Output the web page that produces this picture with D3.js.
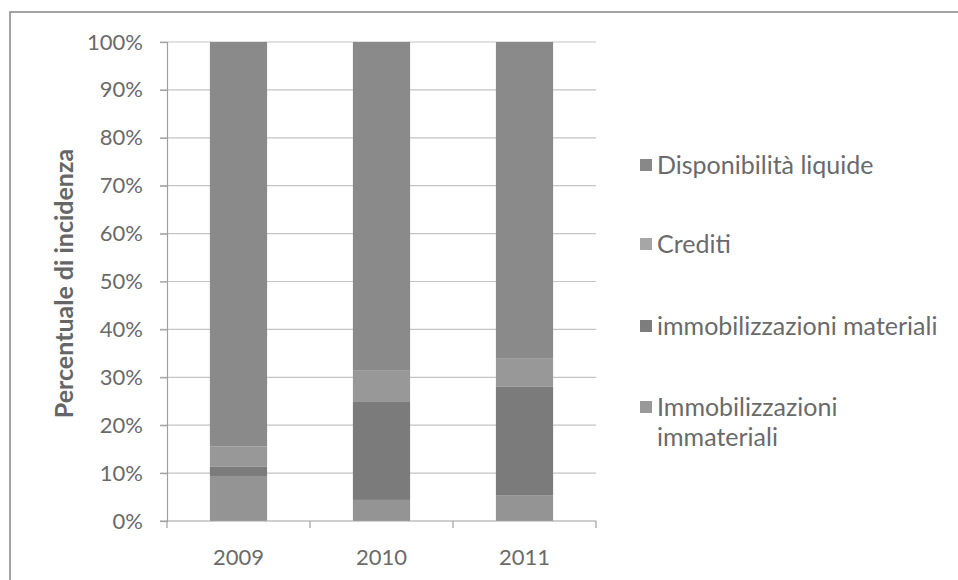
<!DOCTYPE html>
<html>
<head>
<meta charset="utf-8">
<script src="https://cdn.jsdelivr.net/npm/d3@7/dist/d3.min.js"></script>
<style>
  html, body { margin: 0; padding: 0; background: #fff; }
  svg { display: block; font-family: Lato, "Open Sans", sans-serif; }
</style>
</head>
<body>
<svg id="chart" width="958" height="580"></svg>
<script>
// Composizione dell'attivo: quota percentuale per anno
const years = ["2009", "2010", "2011"];
const seriesNames = ["Immobilizzazioni immateriali", "immobilizzazioni materiali", "Crediti", "Disponibilità liquide"];
const immateriali = [9.4, 4.4, 5.3];
const materiali = [1.9, 20.6, 22.8];
const crediti = [4.3, 6.5, 5.9];
const disponibilita = [84.4, 68.5, 66.0];
const yTicks = [0, 10, 20, 30, 40, 50, 60, 70, 80, 90, 100];
const legendOrder = ["Disponibilità liquide", "Crediti", "immobilizzazioni materiali", "Immobilizzazioni immateriali"];

const colors = {
  "Immobilizzazioni immateriali": "#949494",
  "immobilizzazioni materiali": "#7b7b7b",
  "Crediti": "#989898",
  "Disponibilità liquide": "#8a8a8a"
};
const legendColors = {
  "Immobilizzazioni immateriali": "#999999",
  "immobilizzazioni materiali": "#7d7d7d",
  "Crediti": "#a6a6a6",
  "Disponibilità liquide": "#888888"
};

const svg = d3.select("#chart");

// outer chart frame
svg.append("rect")
  .attr("x", 10).attr("y", 12)
  .attr("width", 1000).attr("height", 700)
  .attr("fill", "none").attr("stroke", "#9a9a9a").attr("stroke-width", 1.8);

const plot = { left: 167, right: 596, top: 42, bottom: 521 };

const x = d3.scaleBand().domain(years).range([plot.left, plot.right]).paddingInner(0.6).paddingOuter(0.3);
const y = d3.scaleLinear().domain([0, 100]).range([plot.bottom, plot.top]);

// gridlines
svg.append("g").selectAll("line").data(yTicks.filter(d => d > 0)).join("line")
  .attr("x1", plot.left - 7).attr("x2", plot.right)
  .attr("y1", d => y(d)).attr("y2", d => y(d))
  .attr("stroke", "#c4c4c4").attr("stroke-width", 1.2);

// stacked bars
const rows = years.map((yr, i) => ({
  year: yr,
  "Immobilizzazioni immateriali": immateriali[i],
  "immobilizzazioni materiali": materiali[i],
  "Crediti": crediti[i],
  "Disponibilità liquide": disponibilita[i]
}));
const stacked = d3.stack().keys(seriesNames)(rows);

svg.append("g").selectAll("g").data(stacked).join("g")
  .attr("fill", d => colors[d.key])
  .selectAll("rect").data(d => d).join("rect")
  .attr("x", d => x(d.data.year))
  .attr("width", x.bandwidth())
  .attr("y", d => y(d[1]))
  .attr("height", d => y(d[0]) - y(d[1]));

// y axis
const yAxis = svg.append("g")
  .attr("transform", `translate(${plot.left},0)`)
  .call(d3.axisLeft(y).tickValues(yTicks).tickFormat(d => d + "%").tickSize(7).tickPadding(17));
yAxis.select(".domain").attr("stroke", "#a0a0a0").attr("stroke-width", 1.2);
yAxis.selectAll(".tick line").attr("stroke", "#a0a0a0").attr("stroke-width", 1.2);
yAxis.selectAll("text").attr("fill", "#6a6a6a").style("font-size", "22px")
  .style("font-family", "Lato, 'Open Sans', sans-serif");

// x axis
const xOuter = d3.scaleLinear().domain([0, 3]).range([plot.left, plot.right]);
const xg = svg.append("g").attr("transform", `translate(0,${plot.bottom})`);
xg.append("line").attr("x1", plot.left - 7).attr("x2", plot.right)
  .attr("stroke", "#a0a0a0").attr("stroke-width", 1.2);
xg.selectAll("line.tk").data([0, 1, 2, 3]).join("line").attr("class", "tk")
  .attr("x1", d => xOuter(d)).attr("x2", d => xOuter(d))
  .attr("y1", 0).attr("y2", 7)
  .attr("stroke", "#a0a0a0").attr("stroke-width", 1.2);
xg.selectAll("text").data(years).join("text")
  .attr("x", d => x(d) + x.bandwidth() / 2)
  .attr("y", 44)
  .attr("text-anchor", "middle")
  .attr("fill", "#6a6a6a").style("font-size", "22px")
  .text(d => d);

// y axis title
svg.append("text")
  .attr("transform", `translate(73,${(plot.top + plot.bottom) / 2 + 2}) rotate(-90)`)
  .attr("text-anchor", "middle")
  .attr("fill", "#666")
  .style("font-size", "25px").style("font-weight", "bold")
  .text("Percentuale di incidenza");

// legend
const legendY = [165, 244, 326, 407];
const lg = svg.append("g").selectAll("g").data(legendOrder).join("g")
  .attr("transform", (d, i) => `translate(640,${legendY[i]})`);
lg.append("rect").attr("x", 0).attr("y", -6).attr("width", 12).attr("height", 12)
  .attr("fill", d => legendColors[d]);
lg.append("text")
  .attr("x", 17).attr("dy", "0.35em")
  .attr("fill", "#6a6a6a").style("font-size", "25px")
  .each(function (d) {
    const t = d3.select(this);
    if (d === "Immobilizzazioni immateriali") {
      t.append("tspan").attr("x", 17).text("Immobilizzazioni");
      t.append("tspan").attr("x", 17).attr("dy", 30).text("immateriali");
    } else {
      t.text(d);
    }
  });
</script>
</body>
</html>
